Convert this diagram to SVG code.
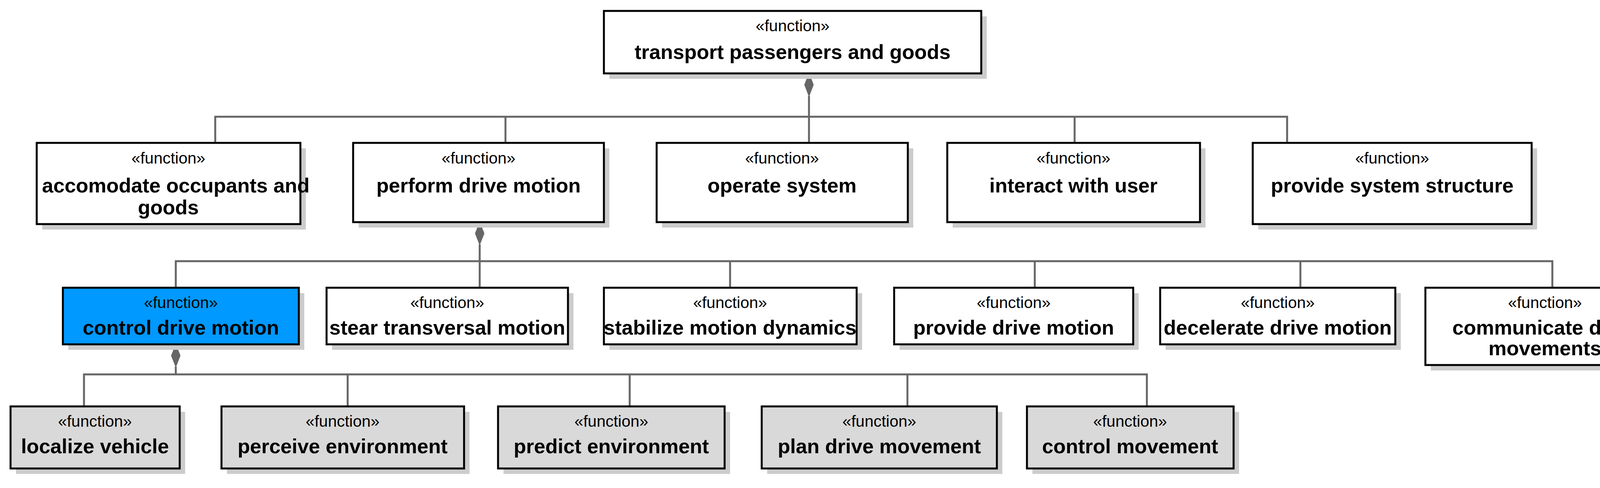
<svg xmlns="http://www.w3.org/2000/svg" width="4285" height="1250" viewBox="0 0 4285 1250">
<style>
.sh{fill:#cccccc}
.b{fill:#fff;stroke:#000;stroke-width:5}
.g{fill:#d9d9d9;stroke:#000;stroke-width:5}
.bl{fill:#0099ff;stroke:#000;stroke-width:5}
.st{font-family:"Liberation Sans",Arial,sans-serif;font-size:41px;text-anchor:middle;fill:#000}
.nm{font-family:"Liberation Sans",Arial,sans-serif;font-size:52px;font-weight:bold;text-anchor:middle;fill:#000}
.c{fill:none;stroke:#666;stroke-width:5}
.d{fill:#666;stroke:#666;stroke-width:2}
</style>
<rect width="4285" height="1250" fill="#fff"/>
<g id="connectors">
<polyline class="c" points="2071,246 2071,299"/>
<polyline class="c" points="551,366 551,299 3295,299 3295,366"/>
<line class="c" x1="1294" y1="299" x2="1294" y2="366"/>
<line class="c" x1="2071" y1="299" x2="2071" y2="366"/>
<line class="c" x1="2751" y1="299" x2="2751" y2="366"/>
<polygon class="d" points="2071,189 2082,217 2071,246 2060,217"/>
<polyline class="c" points="1228,626 1228,737"/>
<polyline class="c" points="450,737 450,669 3974,669 3974,737"/>
<line class="c" x1="1869" y1="669" x2="1869" y2="737"/>
<line class="c" x1="2649" y1="669" x2="2649" y2="737"/>
<line class="c" x1="3329" y1="669" x2="3329" y2="737"/>
<polygon class="d" points="1228,570 1239,598 1228,626 1217,598"/>
<polyline class="c" points="450,939 450,959"/>
<polyline class="c" points="215,1041 215,959 2936,959 2936,1041"/>
<line class="c" x1="890" y1="959" x2="890" y2="1041"/>
<line class="c" x1="1612" y1="959" x2="1612" y2="1041"/>
<line class="c" x1="2323" y1="959" x2="2323" y2="1041"/>
<polygon class="d" points="450,883 461,911 450,939 439,911"/>
</g>
<g id="n0"><rect class="sh" x="1560" y="42" width="966" height="160"/><rect class="b" x="1546" y="28" width="966" height="160"/><text class="st" x="2029" y="80">«function»</text><text class="nm" x="2029" y="151">transport passengers and goods</text></g>
<g id="n1"><rect class="sh" x="108" y="380" width="675" height="208"/><rect class="b" x="94" y="366" width="675" height="208"/><text class="st" x="431" y="419">«function»</text><text class="nm" x="450" y="493">accomodate occupants and</text><text class="nm" x="431" y="549">goods</text></g>
<g id="n2"><rect class="sh" x="918" y="380" width="642" height="203"/><rect class="b" x="904" y="366" width="642" height="203"/><text class="st" x="1225" y="419">«function»</text><text class="nm" x="1225" y="493">perform drive motion</text></g>
<g id="n3"><rect class="sh" x="1695" y="380" width="643" height="203"/><rect class="b" x="1681" y="366" width="643" height="203"/><text class="st" x="2002" y="419">«function»</text><text class="nm" x="2002" y="493">operate system</text></g>
<g id="n4"><rect class="sh" x="2439" y="380" width="647" height="203"/><rect class="b" x="2425" y="366" width="647" height="203"/><text class="st" x="2748" y="419">«function»</text><text class="nm" x="2748" y="493">interact with user</text></g>
<g id="n5"><rect class="sh" x="3221" y="380" width="714" height="208"/><rect class="b" x="3207" y="366" width="714" height="208"/><text class="st" x="3564" y="419">«function»</text><text class="nm" x="3564" y="493">provide system structure</text></g>
<g id="n6"><rect class="sh" x="175" y="751" width="604" height="145"/><rect class="bl" x="161" y="737" width="604" height="145"/><text class="st" x="463" y="789">«function»</text><text class="nm" x="463" y="857">control drive motion</text></g>
<g id="n7"><rect class="sh" x="850" y="751" width="618" height="145"/><rect class="b" x="836" y="737" width="618" height="145"/><text class="st" x="1145" y="789">«function»</text><text class="nm" x="1145" y="857">stear transversal motion</text></g>
<g id="n8"><rect class="sh" x="1560" y="751" width="647" height="145"/><rect class="b" x="1546" y="737" width="647" height="145"/><text class="st" x="1869" y="789">«function»</text><text class="nm" x="1869" y="857">stabilize motion dynamics</text></g>
<g id="n9"><rect class="sh" x="2303" y="751" width="612" height="145"/><rect class="b" x="2289" y="737" width="612" height="145"/><text class="st" x="2595" y="789">«function»</text><text class="nm" x="2595" y="857">provide drive motion</text></g>
<g id="n10"><rect class="sh" x="2984" y="751" width="602" height="145"/><rect class="b" x="2970" y="737" width="602" height="145"/><text class="st" x="3271" y="789">«function»</text><text class="nm" x="3271" y="857">decelerate drive motion</text></g>
<g id="n11"><rect class="sh" x="3663" y="751" width="612" height="198"/><rect class="b" x="3649" y="737" width="612" height="198"/><text class="st" x="3955" y="789">«function»</text><text class="nm" x="3955" y="857">communicate drive</text><text class="nm" x="3955" y="910">movements</text></g>
<g id="n12"><rect class="sh" x="41" y="1055" width="433" height="159"/><rect class="g" x="27" y="1041" width="433" height="159"/><text class="st" x="243" y="1093">«function»</text><text class="nm" x="243" y="1161">localize vehicle</text></g>
<g id="n13"><rect class="sh" x="581" y="1055" width="621" height="159"/><rect class="g" x="567" y="1041" width="621" height="159"/><text class="st" x="877" y="1093">«function»</text><text class="nm" x="877" y="1161">perceive environment</text></g>
<g id="n14"><rect class="sh" x="1289" y="1055" width="580" height="159"/><rect class="g" x="1275" y="1041" width="580" height="159"/><text class="st" x="1565" y="1093">«function»</text><text class="nm" x="1565" y="1161">predict environment</text></g>
<g id="n15"><rect class="sh" x="1964" y="1055" width="602" height="159"/><rect class="g" x="1950" y="1041" width="602" height="159"/><text class="st" x="2251" y="1093">«function»</text><text class="nm" x="2251" y="1161">plan drive movement</text></g>
<g id="n16"><rect class="sh" x="2643" y="1055" width="529" height="159"/><rect class="g" x="2629" y="1041" width="529" height="159"/><text class="st" x="2893" y="1093">«function»</text><text class="nm" x="2893" y="1161">control movement</text></g>
</svg>
